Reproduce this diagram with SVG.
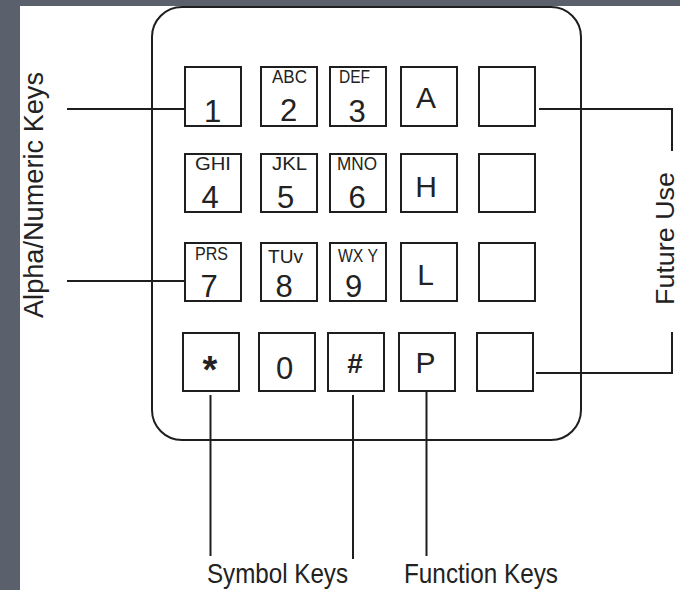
<svg xmlns="http://www.w3.org/2000/svg" width="680" height="590" viewBox="0 0 680 590">
  <style>
    .key { fill: #ffffff; stroke: #1e1e1e; stroke-width: 2; }
    .ln { fill: none; stroke: #1e1e1e; stroke-width: 2; }
    .t { font-family: "Liberation Sans", Arial, sans-serif; fill: #222222; }
    .dg { font-size: 31px; text-anchor: middle; }
    .lt { font-size: 18px; }
    .big { font-size: 30px; text-anchor: middle; }
    .lab { font-size: 28px; }
  </style>
  <rect x="0" y="0" width="680" height="590" fill="#5b606d"/>
  <rect x="20" y="6" width="660" height="584" fill="#ffffff"/>

  <g id="keypad-body">
    <rect x="152" y="7" width="429" height="433" rx="30" ry="30" class="ln"/>
  </g>

  <g id="connectors">
    <line x1="67" y1="109" x2="185" y2="109" class="ln"/>
    <line x1="67" y1="281" x2="185" y2="281" class="ln"/>
    <polyline points="539,109 672,109 672,151" class="ln"/>
    <polyline points="536,373 672,373 672,332" class="ln"/>
    <line x1="210.5" y1="395" x2="210.5" y2="556" class="ln"/>
    <line x1="353" y1="395" x2="353" y2="559" class="ln"/>
    <line x1="426.5" y1="391" x2="426.5" y2="556" class="ln"/>
  </g>

  <g id="key-1"><rect x="185" y="67" width="56" height="59" class="key"/><text x="212.5" y="122" class="t dg" font-size="34">1</text></g>
  <g id="key-2"><rect x="261" y="67" width="56" height="59" class="key"/><text x="272" y="83" class="t lt" textLength="35" lengthAdjust="spacingAndGlyphs">ABC</text><text x="288.5" y="121" class="t dg" font-size="34">2</text></g>
  <g id="key-3"><rect x="330" y="67" width="56" height="59" class="key"/><text x="339" y="83" class="t lt" textLength="31" lengthAdjust="spacingAndGlyphs">DEF</text><text x="357" y="122" class="t dg" font-size="34">3</text></g>
  <g id="key-A"><rect x="401" y="67" width="56" height="59" class="key"/><text x="426" y="108" class="t big">A</text></g>
  <g id="key-f1"><rect x="479" y="67" width="56" height="59" class="key"/></g>

  <g id="key-4"><rect x="185" y="154" width="56" height="58" class="key"/><text x="195" y="170" class="t lt" textLength="36" lengthAdjust="spacingAndGlyphs">GHI</text><text x="210" y="208" class="t dg">4</text></g>
  <g id="key-5"><rect x="261" y="154" width="56" height="58" class="key"/><text x="272" y="170" class="t lt" textLength="35" lengthAdjust="spacingAndGlyphs">JKL</text><text x="285.5" y="208" class="t dg">5</text></g>
  <g id="key-6"><rect x="330" y="154" width="56" height="58" class="key"/><text x="337" y="170" class="t lt" textLength="40" lengthAdjust="spacingAndGlyphs">MNO</text><text x="357" y="208" class="t dg">6</text></g>
  <g id="key-H"><rect x="401" y="154" width="56" height="58" class="key"/><text x="426" y="197" class="t big">H</text></g>
  <g id="key-f2"><rect x="479" y="154" width="56" height="58" class="key"/></g>

  <g id="key-7"><rect x="185" y="243" width="56" height="58" class="key"/><text x="195" y="260" class="t lt" textLength="33" lengthAdjust="spacingAndGlyphs">PRS</text><text x="209" y="297" class="t dg">7</text></g>
  <g id="key-8"><rect x="261" y="243" width="56" height="58" class="key"/><text x="268" y="263" class="t lt" textLength="35" lengthAdjust="spacingAndGlyphs">TUv</text><text x="284" y="297" class="t dg">8</text></g>
  <g id="key-9"><rect x="330" y="243" width="56" height="58" class="key"/><text x="338" y="262" class="t lt" textLength="40" lengthAdjust="spacingAndGlyphs">WX Y</text><text x="353.5" y="297" class="t dg">9</text></g>
  <g id="key-L"><rect x="401" y="243" width="56" height="58" class="key"/><text x="425.5" y="285" class="t big">L</text></g>
  <g id="key-f3"><rect x="479" y="243" width="56" height="58" class="key"/></g>

  <g id="key-star"><rect x="183" y="333" width="56" height="58" class="key"/><text x="210" y="383" class="t" font-size="38" font-weight="bold" text-anchor="middle">*</text></g>
  <g id="key-0"><rect x="259" y="333" width="56" height="58" class="key"/><text x="284.7" y="379" class="t dg" font-size="30">0</text></g>
  <g id="key-hash"><rect x="328" y="333" width="56" height="58" class="key"/><text x="355" y="373" class="t" font-size="28" font-weight="bold" text-anchor="middle">#</text></g>
  <g id="key-P"><rect x="399" y="333" width="56" height="58" class="key"/><text x="425.5" y="373" class="t big">P</text></g>
  <g id="key-f4"><rect x="477" y="333" width="56" height="58" class="key"/></g>

  <g id="label-alpha"><text x="43" y="318" transform="rotate(-90 43 318)" class="t lab" textLength="246" lengthAdjust="spacingAndGlyphs">Alpha/Numeric Keys</text></g>
  <g id="label-future"><text x="674" y="305" transform="rotate(-90 674 305)" class="t" font-size="25" textLength="133" lengthAdjust="spacingAndGlyphs">Future Use</text></g>
  <g id="label-symbol"><text x="207" y="583" class="t" font-size="28" textLength="141" lengthAdjust="spacingAndGlyphs">Symbol Keys</text></g>
  <g id="label-function"><text x="404" y="583" class="t" font-size="28" textLength="154" lengthAdjust="spacingAndGlyphs">Function Keys</text></g>
</svg>
